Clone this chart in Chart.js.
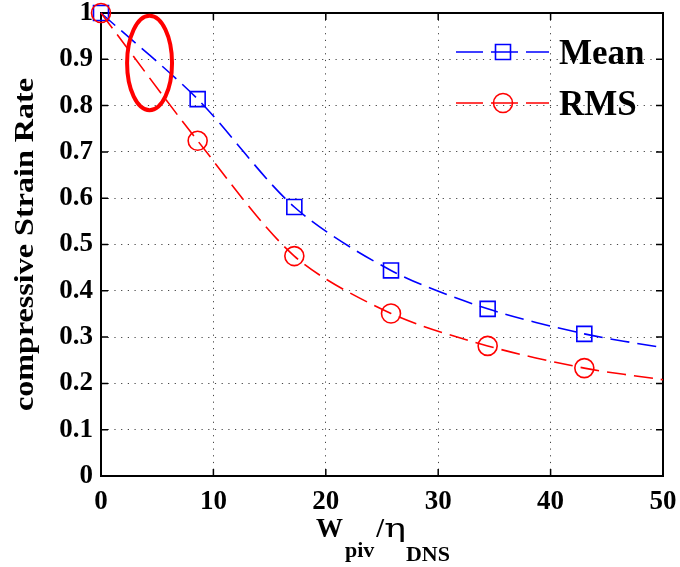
<!DOCTYPE html>
<html>
<head>
<meta charset="utf-8">
<script src="https://cdn.jsdelivr.net/npm/chart.js@4.4.1/dist/chart.umd.min.js"></script>
<style>
  html, body { margin: 0; padding: 0; background: #fff; }
  #wrap { width: 680px; height: 567px; }
</style>
</head>
<body>
<div id="wrap"><canvas id="chart" width="680" height="567"></canvas></div>
<script>
// values
const xValues = [0, 8.6, 17.2, 25.8, 34.4, 43.0, 50];
const meanValues = [1.0, 0.814, 0.581, 0.444, 0.361, 0.307, 0.277];
const rmsValues = [1.0, 0.724, 0.475, 0.351, 0.281, 0.233, 0.208];
const markerShown = [true, true, true, true, true, true, false];
const xTicks = [0, 10, 20, 30, 40, 50];
const yTicks = [0, 0.1, 0.2, 0.3, 0.4, 0.5, 0.6, 0.7, 0.8, 0.9, 1];
const seriesNames = ["Mean", "RMS"];
const yTitle = "compressive Strain Rate";
// red ellipse annotation, in data units
const highlight = { x: 4.32, y: 0.892, rx: 2.0, ry: 0.102 };

const SERIF = '"Liberation Serif", "Times New Roman", serif';
const BLUE = "#0000ff";
const RED = "#ff0000";

function pairs(ys) {
  return xValues.map((x, i) => ({ x: x, y: ys[i] }));
}

const annotations = {
  id: "annotations",
  beforeDatasetsDraw(chart) {
    const { ctx, chartArea: a, scales } = chart;
    ctx.save();
    ctx.strokeStyle = "#000";
    ctx.lineWidth = 2;
    ctx.strokeRect(a.left, a.top, a.right - a.left, a.bottom - a.top);
    ctx.lineWidth = 1.5;
    ctx.beginPath();
    xTicks.forEach((v) => {
      const px = scales.x.getPixelForValue(v);
      ctx.moveTo(px, a.bottom);
      ctx.lineTo(px, a.bottom - 7);
      ctx.moveTo(px, a.top);
      ctx.lineTo(px, a.top + 7);
    });
    yTicks.forEach((v) => {
      const py = scales.y.getPixelForValue(v);
      ctx.moveTo(a.left, py);
      ctx.lineTo(a.left + 7, py);
      ctx.moveTo(a.right, py);
      ctx.lineTo(a.right - 7, py);
    });
    ctx.stroke();
    ctx.restore();
  },
  afterDraw(chart) {
    const { ctx, chartArea: a, scales } = chart;

    // ellipse
    const cx = scales.x.getPixelForValue(highlight.x);
    const cy = scales.y.getPixelForValue(highlight.y);
    const rx = scales.x.getPixelForValue(highlight.x + highlight.rx) - cx;
    const ry = cy - scales.y.getPixelForValue(highlight.y + highlight.ry);
    ctx.save();
    ctx.strokeStyle = RED;
    ctx.lineWidth = 4;
    ctx.beginPath();
    ctx.ellipse(cx, cy, rx, ry, 0, 0, Math.PI * 2);
    ctx.stroke();
    ctx.restore();

    // legend
    const colors = [BLUE, RED];
    seriesNames.forEach((name, i) => {
      const yy = a.top + 39 + i * 51;
      const x0 = a.right - 207;
      const x1 = a.right - 114;
      const mx = a.right - 160;
      ctx.save();
      ctx.strokeStyle = colors[i];
      ctx.lineWidth = 1.6;
      ctx.setLineDash([27, 8]);
      ctx.beginPath();
      ctx.moveTo(x0, yy);
      ctx.lineTo(x1, yy);
      ctx.stroke();
      ctx.setLineDash([]);
      ctx.beginPath();
      if (i === 0) ctx.rect(mx - 7.5, yy - 7.5, 15, 15);
      else ctx.arc(mx, yy, 9.5, 0, Math.PI * 2);
      ctx.stroke();
      ctx.fillStyle = "#000";
      ctx.font = "bold 35px " + SERIF;
      ctx.textAlign = "left";
      ctx.textBaseline = "alphabetic";
      ctx.fillText(name, a.right - 104, yy + 12);
      ctx.restore();
    });

    // y title
    ctx.save();
    ctx.translate(33, (a.top + a.bottom) / 2);
    ctx.rotate(-Math.PI / 2);
    ctx.scale(1.19, 1);
    ctx.font = "bold 27px " + SERIF;
    ctx.fillStyle = "#000";
    ctx.textAlign = "center";
    ctx.textBaseline = "alphabetic";
    ctx.fillText(yTitle, 0, 0);
    ctx.restore();

    // x title: W_piv / eta_DNS
    const parts = [
      { t: "W", f: "bold 27px " + SERIF, dy: 0, sx: 1, gap: 2 },
      { t: "piv", f: "bold 22px " + SERIF, dy: 20, sx: 1, gap: 2 },
      { t: "/", f: "bold 28px " + SERIF, dy: 0, sx: 1, gap: 0 },
      { t: "\u03b7", f: "26px \"DejaVu Serif\", serif", dy: 0, sx: 1.4, gap: 0 },
      { t: "DNS", f: "bold 22px " + SERIF, dy: 24, sx: 1, gap: 0 },
    ];
    ctx.save();
    ctx.fillStyle = "#000";
    ctx.textBaseline = "alphabetic";
    ctx.textAlign = "left";
    let total = 0;
    parts.forEach((p) => {
      ctx.font = p.f;
      p.w = ctx.measureText(p.t).width * p.sx + p.gap;
      total += p.w;
    });
    let px = (a.left + a.right) / 2 + 1 - total / 2;
    const base = a.bottom + 61;
    parts.forEach((p) => {
      ctx.font = p.f;
      ctx.save();
      ctx.translate(px, base + p.dy);
      ctx.scale(p.sx, 1);
      ctx.fillText(p.t, 0, 0);
      ctx.restore();
      px += p.w;
    });
    ctx.restore();
  },
};

new Chart(document.getElementById("chart"), {
  type: "line",
  data: {
    datasets: [
      {
        label: seriesNames[0],
        data: pairs(meanValues),
        borderColor: BLUE,
        borderWidth: 1.6,
        borderDash: [19, 8],
        tension: 0.3,
        pointStyle: "rect",
        pointRadius: markerShown.map((s) => (s ? 10.6 : 0)),
        pointBorderWidth: 1.6,
        pointBorderColor: BLUE,
        pointBackgroundColor: "rgba(0,0,0,0)",
        fill: false,
        clip: false,
        order: 1,
      },
      {
        label: seriesNames[1],
        data: pairs(rmsValues),
        borderColor: RED,
        borderWidth: 1.6,
        borderDash: [19, 8],
        tension: 0.3,
        pointStyle: "circle",
        pointRadius: markerShown.map((s) => (s ? 9.5 : 0)),
        pointBorderWidth: 1.6,
        pointBorderColor: RED,
        pointBackgroundColor: "rgba(0,0,0,0)",
        fill: false,
        clip: false,
        order: 0,
      },
    ],
  },
  options: {
    responsive: false,
    animation: false,
    layout: { padding: { top: 13, right: 17, left: 0, bottom: 0 } },
    plugins: {
      legend: { display: false },
      tooltip: { enabled: false },
    },
    scales: {
      x: {
        type: "linear",
        min: 0,
        max: 50,
        afterBuildTicks: (s) => {
          s.ticks = xTicks.map((v) => ({ value: v }));
        },
        afterFit: (s) => {
          s.height = 91;
          s.paddingLeft = 0;
          s.paddingRight = 0;
        },
        grid: { color: "#444", lineWidth: 1, drawTicks: false },
        border: { display: false, dash: [1.2, 5.5] },
        ticks: {
          font: { family: SERIF, size: 27, weight: "bold" },
          color: "#000",
          padding: 10,
          maxRotation: 0,
        },
      },
      y: {
        type: "linear",
        min: 0,
        max: 1,
        afterBuildTicks: (s) => {
          s.ticks = yTicks.map((v) => ({ value: v }));
        },
        afterFit: (s) => {
          s.width = 101;
          s.paddingTop = 0;
          s.paddingBottom = 0;
        },
        grid: { color: "#444", lineWidth: 1, drawTicks: false },
        border: { display: false, dash: [1.2, 5.5] },
        ticks: {
          font: { family: SERIF, size: 27, weight: "bold" },
          color: "#000",
          padding: 8,
          callback: (v) => String(Number(v.toFixed(1))),
        },
      },
    },
  },
  plugins: [annotations],
});
</script>
</body>
</html>
